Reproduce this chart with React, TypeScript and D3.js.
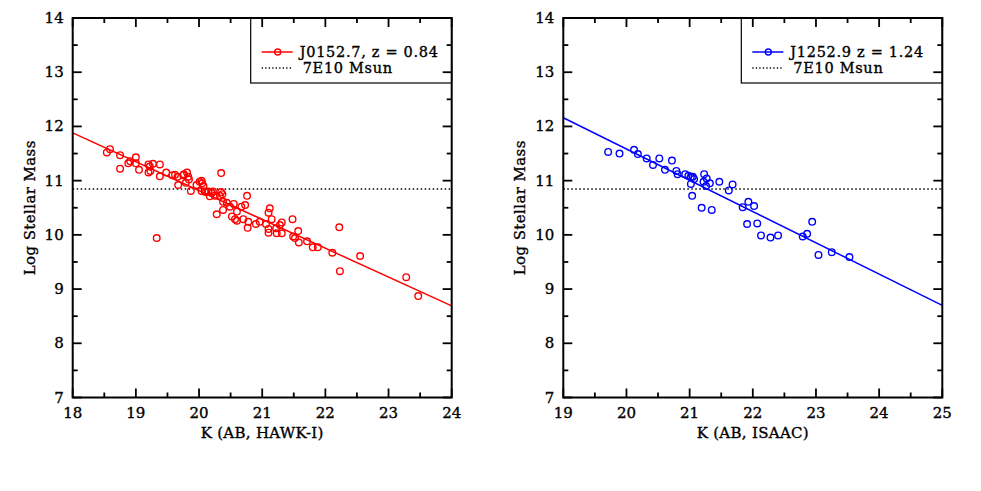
import React from "react";
import * as d3 from "d3";

// J0152.7 (HAWK-I K band) galaxies: [K mag, log stellar mass]
const j0152Points = [
  [18.54, 11.52], [18.59, 11.58], [18.75, 11.47], [18.75, 11.22], [18.88, 11.32],
  [18.91, 11.36], [19.0, 11.43], [19.0, 11.32], [19.05, 11.2], [19.2, 11.3],
  [19.22, 11.26], [19.27, 11.31], [19.2, 11.15], [19.23, 11.18], [19.38, 11.3],
  [19.38, 11.08], [19.33, 9.94], [19.48, 11.15], [19.58, 11.1], [19.62, 11.11],
  [19.66, 11.07], [19.67, 10.92], [19.75, 11.1], [19.76, 11.12], [19.81, 11.15],
  [19.83, 11.07], [19.79, 10.96], [19.84, 11.02], [19.87, 10.81], [19.96, 10.92],
  [20.01, 10.98], [20.04, 11.0], [20.05, 10.95], [20.07, 10.9], [20.04, 10.81],
  [20.09, 10.8], [20.11, 10.79], [20.15, 10.8], [20.2, 10.77], [20.22, 10.8],
  [20.17, 10.71], [20.25, 10.72], [20.35, 11.14], [20.35, 10.79], [20.37, 10.75],
  [20.33, 10.72], [20.28, 10.38], [20.38, 10.61], [20.44, 10.59], [20.38, 10.46],
  [20.49, 10.52], [20.55, 10.57], [20.6, 10.43], [20.52, 10.34], [20.57, 10.29],
  [20.6, 10.26], [20.67, 10.52], [20.73, 10.55], [20.76, 10.72], [20.7, 10.29],
  [20.78, 10.24], [20.77, 10.13], [20.9, 10.2], [20.96, 10.24], [21.06, 10.2],
  [21.1, 10.11], [21.15, 10.29], [21.1, 10.41], [21.12, 10.49], [21.1, 10.04],
  [21.22, 10.12], [21.23, 10.03], [21.28, 10.18], [21.31, 10.23], [21.31, 10.03],
  [21.48, 10.29], [21.49, 9.97], [21.52, 9.94], [21.57, 10.07], [21.58, 9.86],
  [21.71, 9.88], [21.8, 9.77], [21.88, 9.77], [22.11, 9.67], [22.22, 10.14],
  [22.23, 9.33], [22.55, 9.61], [23.28, 9.22], [23.47, 8.87],
];

// J1252.9 (ISAAC K band)
const j1252Points = [
  [19.71, 11.53], [19.89, 11.5], [20.12, 11.57], [20.18, 11.49], [20.32, 11.41],
  [20.42, 11.29], [20.52, 11.41], [20.61, 11.2], [20.72, 11.37], [20.79, 11.18],
  [20.81, 11.12], [20.93, 11.12], [20.98, 11.09], [21.02, 11.07], [21.05, 11.07],
  [21.07, 11.03], [21.02, 10.94], [21.04, 10.72], [21.23, 11.12], [21.27, 11.04],
  [21.22, 10.98], [21.26, 10.9], [21.32, 10.95], [21.47, 10.98], [21.68, 10.93],
  [21.62, 10.82], [21.19, 10.5], [21.35, 10.46], [21.84, 10.51], [21.93, 10.61],
  [22.02, 10.53], [21.91, 10.2], [22.07, 10.21], [22.13, 9.99], [22.28, 9.95],
  [22.4, 9.99], [22.79, 9.97], [22.86, 10.02], [22.94, 10.24], [23.04, 9.63],
  [23.25, 9.68], [23.53, 9.59],
];

// fitted relations (end points across the x range)
const j0152Fit = [[18, 11.88], [24, 8.69]];
const j1252Fit = [[19, 12.16], [25, 8.7]];

const massLimit = Math.log10(7e10); // 7E10 Msun
const yTicks = [7, 8, 9, 10, 11, 12, 13, 14];

const FONT = "'DejaVu Serif', serif";

function Panel({ x0, xDomain, points, fit, color, legend, xlabel }) {
  const width = 379;
  const top = 18;
  const bottom = 397.5;
  const x = d3.scaleLinear().domain(xDomain).range([x0, x0 + width]);
  const y = d3.scaleLinear().domain([7, 14]).range([bottom, top]);

  const xMajor = d3.range(xDomain[0], xDomain[1] + 0.01, 1);
  const xMinor = d3.range(xDomain[0] + 0.5, xDomain[1], 1);
  const yMinor = d3.range(7.5, 14, 1);
  const line = d3.line().x((d) => x(d[0])).y((d) => y(d[1]));

  const bx = x0 + width - 201;
  const ticks = [];
  xMajor.forEach((v) => {
    ticks.push([x(v), bottom, x(v), bottom - 9]);
    ticks.push([x(v), top, x(v), top + 9]);
  });
  xMinor.forEach((v) => {
    ticks.push([x(v), bottom, x(v), bottom - 5]);
    ticks.push([x(v), top, x(v), top + 5]);
  });
  yTicks.forEach((v) => {
    ticks.push([x0, y(v), x0 + 9, y(v)]);
    ticks.push([x0 + width, y(v), x0 + width - 9, y(v)]);
  });
  yMinor.forEach((v) => {
    ticks.push([x0, y(v), x0 + 5, y(v)]);
    ticks.push([x0 + width, y(v), x0 + width - 5, y(v)]);
  });

  const txt = { fill: "#000", stroke: "#000", strokeWidth: 0.35 };

  return (
    <g fontFamily={FONT}>
      <defs>
        <clipPath id={"clip" + x0}>
          <rect x={x0} y={top} width={width} height={bottom - top} />
        </clipPath>
      </defs>
      <g clipPath={`url(#clip${x0})`}>
        <line
          x1={x(xDomain[0])} x2={x(xDomain[1])} y1={y(massLimit)} y2={y(massLimit)}
          stroke="#000" strokeWidth={1.5} strokeDasharray="1.5 2.5"
        />
        <path d={line(fit)} fill="none" stroke={color} strokeWidth={1.5} />
        {points.map((d, i) => (
          <circle key={i} cx={x(d[0])} cy={y(d[1])} r={3.3} fill="none" stroke={color} strokeWidth={1.4} />
        ))}
      </g>
      {/* legend */}
      <rect x={bx} y={top} width={201} height={65} fill="#fff" stroke="#000" strokeWidth={1.2} />
      <line x1={bx + 11} x2={bx + 42} y1={52} y2={52} stroke={color} strokeWidth={1.5} />
      <circle cx={bx + 27} cy={52} r={3} fill="none" stroke={color} strokeWidth={1.4} />
      <text x={bx + 49} y={57} fontSize={14.5} letterSpacing={0.7} {...txt}>{legend}</text>
      <line x1={bx + 11} x2={bx + 42} y1={68} y2={68} stroke="#000" strokeWidth={1.3} strokeDasharray="1.3 2.2" />
      <text x={bx + 52} y={73} fontSize={14.5} letterSpacing={0.7} {...txt}>7E10 Msun</text>
      {/* frame and ticks */}
      <rect x={x0} y={top} width={width} height={bottom - top} fill="none" stroke="#000" strokeWidth={2} />
      {ticks.map((t, i) => (
        <line key={i} x1={t[0]} y1={t[1]} x2={t[2]} y2={t[3]} stroke="#000" strokeWidth={1.8} />
      ))}
      {xMajor.map((v) => (
        <text key={v} x={x(v)} y={418} textAnchor="middle" fontSize={15} {...txt}>{v}</text>
      ))}
      {yTicks.map((v) => (
        <text key={v} x={x0 - 9} y={y(v) + 5} textAnchor="end" fontSize={15} {...txt}>{v}</text>
      ))}
      <text x={x0 + width / 2} y={438} textAnchor="middle" fontSize={15} letterSpacing={0.3} {...txt}>{xlabel}</text>
      <text
        transform={`translate(${x0 - 38},${(top + bottom) / 2}) rotate(-90)`}
        textAnchor="middle" fontSize={15} letterSpacing={0.4} {...txt}
      >Log Stellar Mass</text>
    </g>
  );
}

export default function App() {
  return (
    <svg width={981} height={491} style={{ position: "absolute", left: 0, top: 0, background: "#fff" }}>
      <rect width={981} height={491} fill="#fff" />
      <Panel
        x0={72.7} xDomain={[18, 24]} points={j0152Points} fit={j0152Fit}
        color="#ff0000" legend="J0152.7, z = 0.84" xlabel="K (AB, HAWK-I)"
      />
      <Panel
        x0={563.3} xDomain={[19, 25]} points={j1252Points} fit={j1252Fit}
        color="#0000ff" legend="J1252.9 z = 1.24" xlabel="K (AB, ISAAC)"
      />
    </svg>
  );
}
